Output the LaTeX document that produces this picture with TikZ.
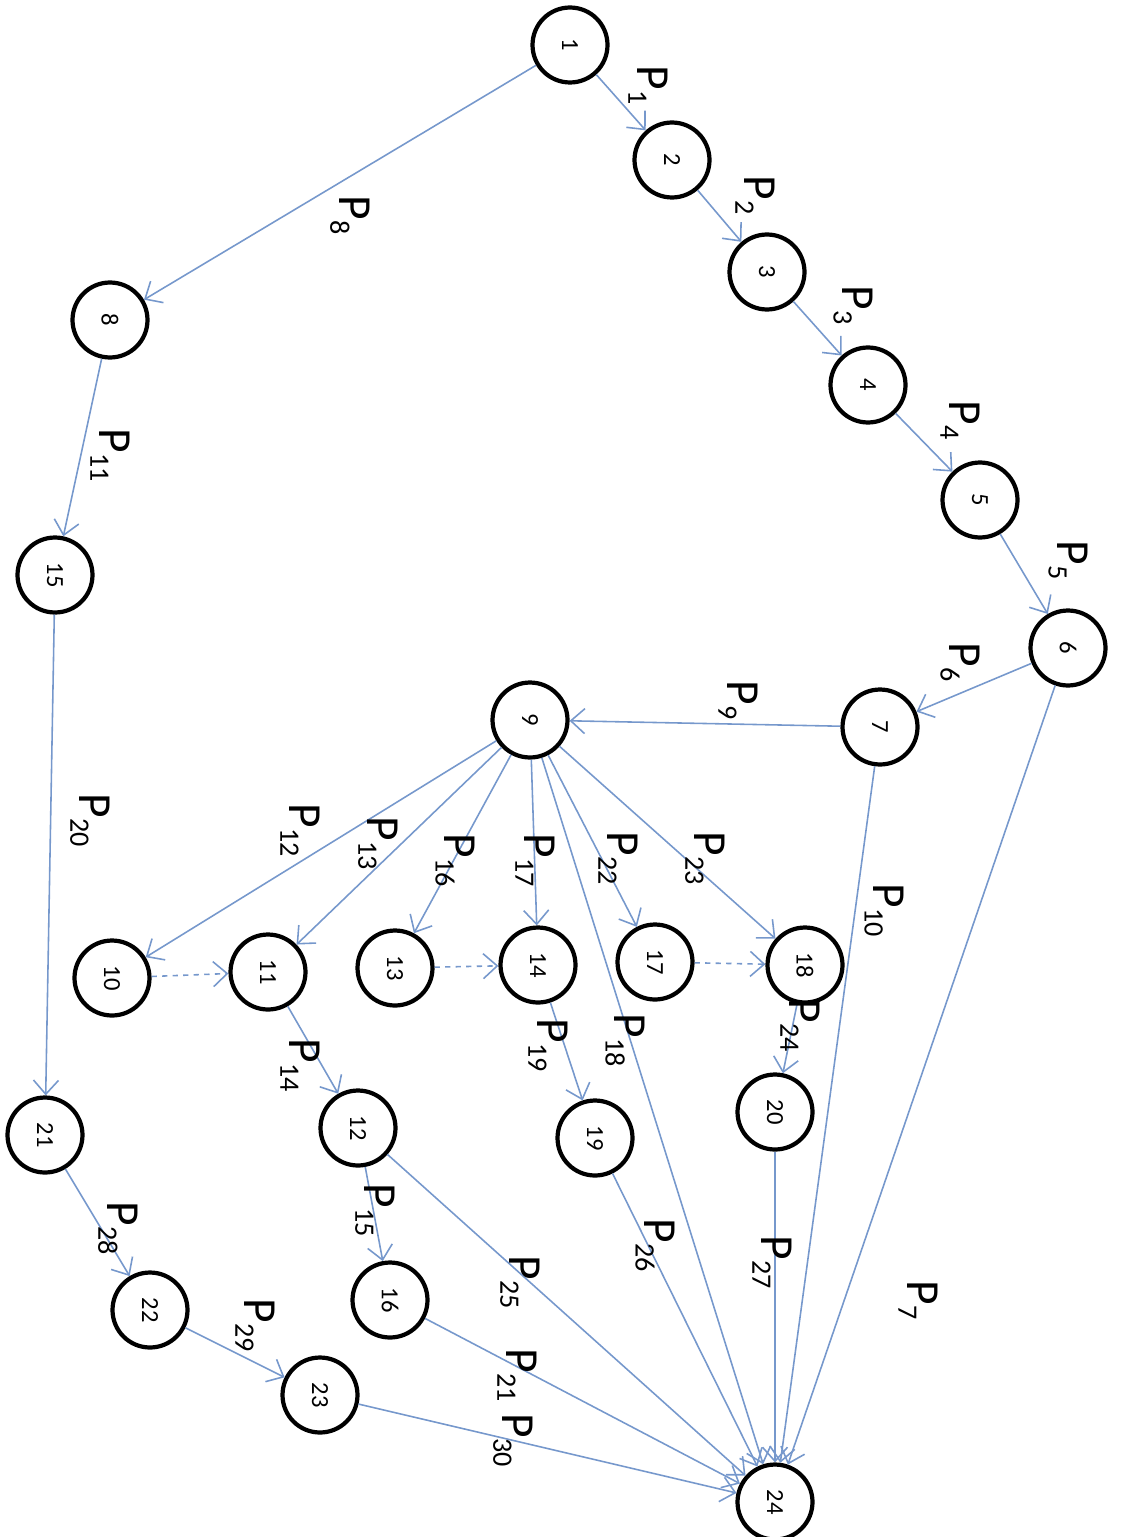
\documentclass[tikz,border=0pt]{standalone}
\usepackage{fontspec}
\setmainfont{Carlito}
\usetikzlibrary{arrows.meta}
\definecolor{edgeblue}{RGB}{118,152,204}
\newcommand{\Plab}[1]{P\raisebox{-5pt}{\fontsize{16}{16}\selectfont #1}}
\tikzset{
  vtx/.style={circle, draw=black, line width=2.4pt, minimum size=1.5cm, inner sep=0pt, fill=white,
    font=\fontsize{14}{15}\selectfont, rotate=-90},
  lab/.style={rotate=-90, font=\fontsize{27}{28}\selectfont, inner sep=0pt},
  edge/.style={draw=edgeblue, line width=0.9pt, -{Straight Barb[length=2.8mm,width=5mm]}},
  dedge/.style={edge, dashed}
}
\begin{document}
\begin{tikzpicture}[x=0.02cm,y=-0.02cm]
\useasboundingbox (0,0) rectangle (1120,1537);
% nodes
\node[vtx] (n1) at (570,45) {1};
\node[vtx] (n2) at (672,160) {2};
\node[vtx] (n3) at (767,272) {3};
\node[vtx] (n4) at (868,385) {4};
\node[vtx] (n5) at (980,500) {5};
\node[vtx] (n6) at (1068,648) {6};
\node[vtx] (n7) at (880,727) {7};
\node[vtx] (n8) at (110,320) {8};
\node[vtx] (n9) at (530,720) {9};
\node[vtx] (n10) at (112,978) {10};
\node[vtx] (n11) at (268,972) {11};
\node[vtx] (n12) at (358,1128) {12};
\node[vtx] (n13) at (395,968) {13};
\node[vtx] (n14) at (538,965) {14};
\node[vtx] (n15) at (55,575) {15};
\node[vtx] (n16) at (390,1300) {16};
\node[vtx] (n17) at (655,962) {17};
\node[vtx] (n18) at (805,965) {18};
\node[vtx] (n19) at (595,1138) {19};
\node[vtx] (n20) at (775,1112) {20};
\node[vtx] (n21) at (45,1135) {21};
\node[vtx] (n22) at (150,1310) {22};
\node[vtx] (n23) at (320,1395) {23};
\node[vtx] (n24) at (775,1502) {24};
% edges
\draw[edge] (n1) -- (n2);
\draw[edge] (n2) -- (n3);
\draw[edge] (n3) -- (n4);
\draw[edge] (n4) -- (n5);
\draw[edge] (n5) -- (n6);
\draw[edge] (n6) -- (n7);
\draw[edge] (n6) -- (n24);
\draw[edge] (n1) -- (n8);
\draw[edge] (n7) -- (n9);
\draw[edge] (n7) -- (n24);
\draw[edge] (n8) -- (n15);
\draw[edge] (n9) -- (n10);
\draw[edge] (n9) -- (n11);
\draw[edge] (n11) -- (n12);
\draw[edge] (n12) -- (n16);
\draw[edge] (n9) -- (n13);
\draw[edge] (n9) -- (n14);
\draw[edge] (n9) -- (n24);
\draw[edge] (n14) -- (n19);
\draw[edge] (n15) -- (n21);
\draw[edge] (n16) -- (n24);
\draw[edge] (n9) -- (n17);
\draw[edge] (n9) -- (n18);
\draw[edge] (n18) -- (n20);
\draw[edge] (n12) -- (n24);
\draw[edge] (n19) -- (n24);
\draw[edge] (n20) -- (n24);
\draw[edge] (n21) -- (n22);
\draw[edge] (n22) -- (n23);
\draw[edge] (n23) -- (n24);
\draw[dedge] (n10) -- (n11);
\draw[dedge] (n13) -- (n14);
\draw[dedge] (n17) -- (n18);
% labels
\node[lab] (l1) at (648,85) {\Plab{1}};
\node[lab] (l2) at (755,195) {\Plab{2}};
\node[lab] (l3) at (853,305) {\Plab{3}};
\node[lab] (l4) at (960,420) {\Plab{4}};
\node[lab] (l5) at (1068,560) {\Plab{5}};
\node[lab] (l6) at (960,662) {\Plab{6}};
\node[lab] (l7) at (918,1300) {\Plab{7}};
\node[lab] (l8) at (350,215) {\Plab{8}};
\node[lab] (l9) at (738,700) {\Plab{9}};
\node[lab] (l10) at (884,910) {\Plab{10}};
\node[lab] (l11) at (110,455) {\Plab{11}};
\node[lab] (l12) at (300,830) {\Plab{12}};
\node[lab] (l13) at (378,843) {\Plab{13}};
\node[lab] (l14) at (300,1065) {\Plab{14}};
\node[lab] (l15) at (375,1210) {\Plab{15}};
\node[lab] (l16) at (455,860) {\Plab{16}};
\node[lab] (l17) at (535,860) {\Plab{17}};
\node[lab] (l18) at (625,1040) {\Plab{18}};
\node[lab] (l19) at (548,1045) {\Plab{19}};
\node[lab] (l20) at (90,820) {\Plab{20}};
\node[lab] (l21) at (517,1375) {\Plab{21}};
\node[lab] (l22) at (618,858) {\Plab{22}};
\node[lab] (l23) at (705,858) {\Plab{23}};
\node[lab] (l24) at (800,1025) {\Plab{24}};
\node[lab] (l25) at (520,1282) {\Plab{25}};
\node[lab] (l26) at (655,1245) {\Plab{26}};
\node[lab] (l27) at (772,1262) {\Plab{27}};
\node[lab] (l28) at (118,1228) {\Plab{28}};
\node[lab] (l29) at (255,1325) {\Plab{29}};
\node[lab] (l30) at (513,1440) {\Plab{30}};
\end{tikzpicture}
\end{document}
